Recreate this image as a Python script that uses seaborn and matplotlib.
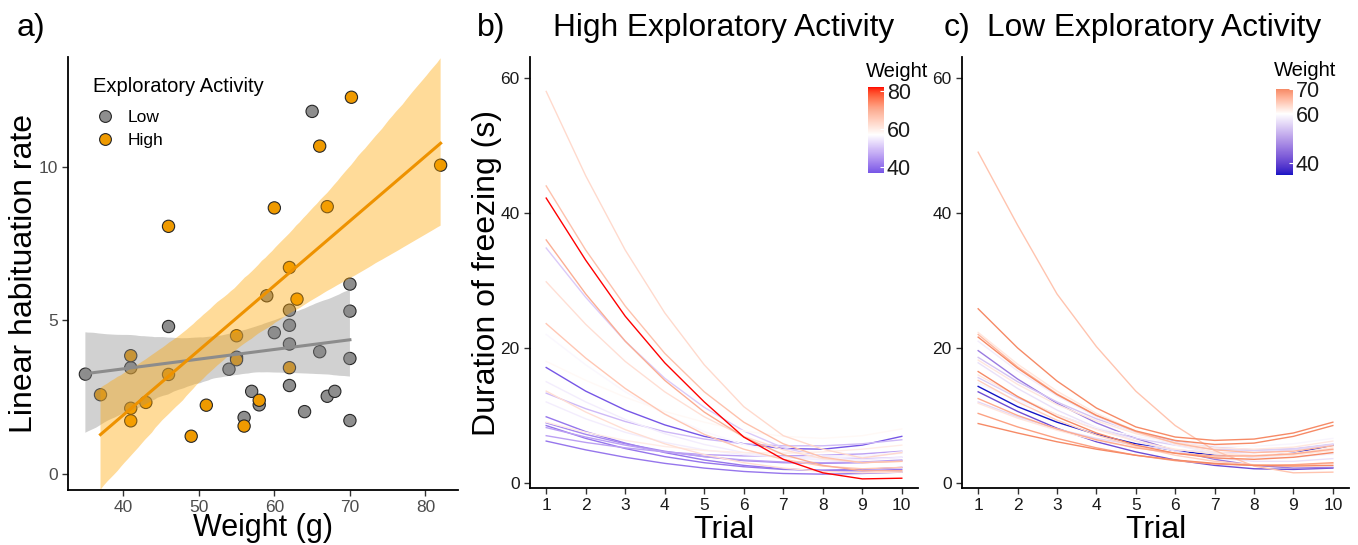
import numpy as np
import pandas as pd
import matplotlib
matplotlib.use("Agg")
import matplotlib.pyplot as plt
import seaborn as sns
from matplotlib.colors import ListedColormap, Normalize, to_rgb
from matplotlib.cm import ScalarMappable
from matplotlib.lines import Line2D

# ---- panel a: habituation rate vs weight ----
low_weight = [35, 41, 46, 54, 55, 56, 57, 58, 59, 60, 62, 62, 62, 62, 64, 65, 66, 67, 68, 70, 70, 70, 70]
low_rate = [3.25, 3.46, 4.8, 3.41, 3.8, 1.84, 2.69, 2.25, 5.8, 4.6, 5.33, 4.84, 4.23, 2.88,
            2.03, 11.8, 3.98, 2.53, 2.69, 6.18, 5.3, 3.76, 1.74]
high_weight = [37, 41, 41, 41, 43, 46, 46, 49, 51, 55, 55, 56, 58, 60, 62, 62, 63, 66, 67, 70.2, 82]
high_rate = [2.58, 3.85, 2.14, 1.73, 2.33, 3.24, 8.06, 1.23, 2.24, 4.5, 3.72, 1.56, 2.4, 8.66,
             6.72, 3.46, 5.69, 10.67, 8.7, 12.26, 10.05]

# ---- panels b, c: predicted freezing per individual over trials ----
trials = list(range(1, 11))

high_ind_weight = [37, 41, 41, 41, 43, 46, 46, 49, 51, 55, 55, 56, 58, 60, 62, 62, 63, 66, 67, 70, 82]
high_freeze = [
    [17.1, 13.6, 10.8, 8.6, 6.9, 5.8, 5.1, 5.0, 5.6, 6.9],
    [9.8, 7.6, 5.9, 4.5, 3.4, 2.6, 2.1, 1.8, 1.8, 2.0],
    [8.5, 6.6, 5.1, 3.9, 3.0, 2.4, 2.0, 1.9, 2.0, 2.3],
    [6.2, 4.9, 3.8, 2.9, 2.2, 1.7, 1.4, 1.3, 1.4, 1.6],
    [8.9, 7.2, 5.8, 4.7, 3.9, 3.3, 3.0, 2.9, 3.0, 3.3],
    [7.0, 6.0, 5.2, 4.6, 4.2, 4.0, 4.0, 4.1, 4.3, 4.7],
    [8.2, 6.8, 5.6, 4.6, 3.9, 3.4, 3.1, 3.0, 3.1, 3.4],
    [13.3, 11.0, 9.1, 7.6, 6.5, 5.8, 5.5, 5.5, 5.8, 6.4],
    [34.8, 27.5, 21.0, 15.5, 11.2, 7.7, 5.2, 3.9, 3.6, 3.8],
    [12.0, 9.5, 7.5, 6.0, 4.9, 4.2, 3.8, 3.7, 3.9, 4.4],
    [15.0, 12.0, 9.4, 7.3, 5.7, 4.5, 3.8, 3.4, 3.4, 3.8],
    [22.0, 17.5, 13.5, 10.2, 7.6, 5.7, 4.5, 4.0, 4.0, 4.6],
    [18.0, 15.2, 12.7, 10.6, 9.0, 7.7, 6.9, 6.6, 7.0, 8.0],
    [9.0, 7.5, 6.3, 5.4, 4.8, 4.5, 4.4, 4.6, 5.0, 5.6],
    [29.8, 23.5, 18.0, 13.5, 9.8, 6.9, 4.9, 3.6, 3.0, 3.2],
    [13.6, 10.5, 7.9, 5.8, 4.2, 3.0, 2.2, 1.7, 1.5, 1.6],
    [58.0, 45.5, 34.5, 25.2, 17.5, 11.3, 7.0, 5.0, 3.7, 4.5],
    [23.6, 18.5, 14.0, 10.2, 7.2, 5.0, 3.5, 2.5, 2.1, 2.3],
    [44.0, 34.5, 26.2, 19.2, 13.5, 9.0, 5.8, 3.8, 3.0, 3.2],
    [36.0, 28.0, 21.0, 15.2, 10.5, 6.8, 4.2, 2.6, 1.8, 1.8],
    [42.2, 33.0, 24.7, 17.8, 12.0, 6.8, 3.5, 1.5, 0.6, 0.7],
]

low_ind_weight = [35, 41, 46, 54, 55, 56, 57, 58, 59, 60, 62, 62, 62, 62, 64, 65, 66, 67, 68, 70, 70, 70, 70]
low_freeze = [
    [14.3, 11.3, 9.0, 7.2, 5.8, 4.8, 4.1, 3.9, 4.4, 5.6],
    [13.5, 10.6, 8.1, 6.1, 4.6, 3.4, 2.6, 2.1, 2.0, 2.2],
    [19.6, 15.4, 11.8, 8.9, 6.6, 4.8, 3.5, 2.6, 2.2, 2.3],
    [18.6, 15.0, 12.0, 9.5, 7.6, 6.2, 5.3, 4.9, 5.0, 5.6],
    [15.6, 12.6, 10.1, 8.1, 6.6, 5.6, 5.0, 4.8, 5.1, 5.8],
    [12.0, 9.8, 8.0, 6.6, 5.6, 4.9, 4.5, 4.5, 4.9, 5.7],
    [17.8, 14.0, 10.8, 8.2, 6.2, 4.7, 3.7, 3.2, 3.2, 3.6],
    [21.0, 16.6, 12.9, 9.8, 7.4, 5.6, 4.4, 3.8, 3.8, 4.3],
    [14.8, 12.2, 10.0, 8.2, 6.9, 6.0, 5.5, 5.4, 5.8, 6.6],
    [23.8, 19.0, 15.0, 11.7, 9.1, 7.2, 5.9, 5.3, 5.3, 6.0],
    [22.3, 17.6, 13.6, 10.3, 7.7, 5.8, 4.6, 4.0, 4.1, 4.8],
    [16.0, 12.8, 10.1, 7.9, 6.2, 5.0, 4.3, 4.1, 4.4, 5.2],
    [11.8, 9.6, 7.8, 6.3, 5.2, 4.4, 4.0, 3.9, 4.2, 4.9],
    [18.2, 14.6, 11.6, 9.2, 7.3, 6.0, 5.2, 5.0, 5.3, 6.2],
    [15.2, 12.0, 9.3, 7.1, 5.4, 4.1, 3.2, 2.7, 2.6, 2.9],
    [49.0, 38.2, 28.0, 20.2, 13.6, 8.5, 4.8, 2.5, 1.5, 1.6],
    [22.0, 17.2, 13.2, 10.0, 7.6, 5.9, 4.9, 4.5, 4.7, 5.5],
    [12.5, 10.0, 8.0, 6.4, 5.2, 4.4, 4.0, 4.0, 4.3, 5.0],
    [10.3, 8.3, 6.6, 5.2, 4.1, 3.3, 2.8, 2.6, 2.7, 3.0],
    [25.8, 20.0, 15.1, 11.1, 8.3, 6.8, 6.3, 6.5, 7.4, 9.0],
    [21.6, 17.0, 13.1, 10.0, 7.7, 6.3, 5.7, 5.9, 6.9, 8.5],
    [16.5, 12.8, 9.8, 7.4, 5.6, 4.4, 3.7, 3.5, 3.8, 4.5],
    [8.8, 7.4, 6.1, 5.0, 4.1, 3.4, 2.9, 2.6, 2.5, 2.6],
]

# colour anchors for the weight gradients (style, not data)
high_anchors = [(37, '#7656e6'), (57, '#ffffff'), (70, '#fbae94'), (82, '#ff0000')]
low_anchors = [(35, '#1414c4'), (60, '#ffffff'), (70, '#f68a66')]

M_RGB2XYZ = np.array([[0.4124564, 0.3575761, 0.1804375],
                      [0.2126729, 0.7151522, 0.0721750],
                      [0.0193339, 0.1191920, 0.9503041]])
WHITE = np.array([0.95047, 1.0, 1.08883])


def srgb_to_lab(rgb):
    rgb = np.asarray(rgb, float)
    lin = np.where(rgb <= 0.04045, rgb / 12.92, ((rgb + 0.055) / 1.055) ** 2.4)
    xyz = lin @ M_RGB2XYZ.T / WHITE
    d = 6 / 29
    f = np.where(xyz > d ** 3, np.cbrt(xyz), xyz / (3 * d * d) + 4 / 29)
    return np.stack([116 * f[..., 1] - 16, 500 * (f[..., 0] - f[..., 1]),
                     200 * (f[..., 1] - f[..., 2])], axis=-1)


def lab_to_srgb(lab):
    fy = (lab[..., 0] + 16) / 116
    fx = fy + lab[..., 1] / 500
    fz = fy - lab[..., 2] / 200
    d = 6 / 29
    inv = lambda t: np.where(t > d, t ** 3, 3 * d * d * (t - 4 / 29))
    xyz = np.stack([inv(fx), inv(fy), inv(fz)], axis=-1) * WHITE
    lin = np.clip(xyz @ np.linalg.inv(M_RGB2XYZ).T, 0, 1)
    rgb = np.where(lin <= 0.0031308, 12.92 * lin, 1.055 * lin ** (1 / 2.4) - 0.055)
    return np.clip(rgb, 0, 1)


def lab_ramp(anchors, wmin, wmax, n=256):
    ws = np.array([a[0] for a in anchors], float)
    labs = srgb_to_lab(np.array([to_rgb(a[1]) for a in anchors]))
    grid = np.linspace(wmin, wmax, n)
    out = np.stack([np.interp(grid, ws, labs[:, k]) for k in range(3)], axis=-1)
    return ListedColormap(lab_to_srgb(out)), Normalize(wmin, wmax)


plt.rcParams['font.family'] = ['Liberation Sans', 'DejaVu Sans']
fig = plt.figure(figsize=(13.58, 5.45), dpi=100)
W, H = 1358, 545


def add_ax(x0, y0, x1, y1):
    return fig.add_axes([x0 / W, 1 - y1 / H, (x1 - x0) / W, (y1 - y0) / H])


def classic(ax, tick_color):
    for s in ['top', 'right']:
        ax.spines[s].set_visible(False)
    for s in ['left', 'bottom']:
        ax.spines[s].set_linewidth(1.3)
        ax.spines[s].set_color('black')
    ax.tick_params(length=4, width=1, color='#333333', labelcolor=tick_color, labelsize=12.5)


# ---- panel a ----
ax_a = add_ax(68, 57, 458, 490)
df_a = pd.DataFrame({
    'weight': low_weight + high_weight,
    'rate': low_rate + high_rate,
    'activity': ['Low'] * len(low_weight) + ['High'] * len(high_weight),
})
pal_a = {'Low': '#8e8e8e', 'High': '#ef9a00'}
sns.scatterplot(data=df_a, x='weight', y='rate', hue='activity', palette=pal_a, s=78,
                edgecolor='#262626', linewidth=0.8, legend=False, ax=ax_a, zorder=1)
band = {'Low': ('#8c8c8c', '#8c8c8c'), 'High': ('#ffa500', '#ee9200')}
for grp in ['Low', 'High']:
    sub = df_a[df_a['activity'] == grp]
    sns.regplot(data=sub, x='weight', y='rate', scatter=False, ci=95, n_boot=2000, seed=3,
                color=band[grp][1], line_kws=dict(lw=2.2), ax=ax_a)
    poly = ax_a.collections[-1]
    poly.set_facecolor(band[grp][0])
    poly.set_alpha(0.4)
    poly.set_edgecolor('none')
ax_a.set_xlim(32.7, 84.3)
ax_a.set_ylim(-0.52, 13.57)
ax_a.set_xticks([40, 50, 60, 70, 80])
ax_a.set_yticks([0, 5, 10])
classic(ax_a, '#4d4d4d')
ax_a.set_xlabel('Weight (g)', fontsize=22)
ax_a.xaxis.set_label_coords(0.5, (490 - 513) / 433)
ax_a.set_ylabel('Linear habituation rate', fontsize=23)
ax_a.yaxis.set_label_coords((39 - 68) / 390, 0.5)
ax_a.text((93 - 68) / 390, (490 - 87) / 433, 'Exploratory Activity', fontsize=14.5,
          transform=ax_a.transAxes, va='center', ha='left')
handles = [Line2D([], [], marker='o', ls='none', markersize=8.5, markerfacecolor=pal_a[k],
                  markeredgecolor='#262626', markeredgewidth=0.8) for k in ['Low', 'High']]
ax_a.legend(handles, ['Low', 'High'], loc='upper left',
            bbox_to_anchor=((91 - 68) / 390, (490 - 110) / 433), frameon=False,
            fontsize=12.5, handletextpad=0.5, labelspacing=0.45, handlelength=1.6,
            borderpad=0, borderaxespad=0)


# ---- panels b and c ----
def curve_panel(box, weights, freeze, anchors, ticks, cbox, title_xy):
    ax = add_ax(*box)
    rows = []
    for i, (w, vals) in enumerate(zip(weights, freeze)):
        for tr, v in zip(trials, vals):
            rows.append({'id': i, 'trial': tr, 'freeze': v, 'weight': w})
    df = pd.DataFrame(rows)
    cmap, norm = lab_ramp(anchors, min(weights), max(weights))
    sns.lineplot(data=df, x='trial', y='freeze', hue='weight', units='id', estimator=None,
                 palette=cmap, hue_norm=norm, legend=False, lw=1.0, ax=ax)
    ax.set_xlim(0.59, 10.41)
    ax.set_ylim(-0.75, 63.1)
    ax.set_xticks(trials)
    ax.set_yticks([0, 20, 40, 60])
    classic(ax, '#1a1a1a')
    ax.set_xlabel('Trial', fontsize=23)
    ax.xaxis.set_label_coords(0.5, (488 - 515) / 431)
    cax = add_ax(*cbox)
    cb = fig.colorbar(ScalarMappable(norm=norm, cmap=cmap), cax=cax)
    cb.outline.set_visible(False)
    cb.set_ticks(ticks)
    cax.tick_params(direction='in', length=3, width=0.8, color='white', labelsize=15.5,
                    labelcolor='#1a1a1a', pad=2)
    fig.text(title_xy[0] / W, 1 - title_xy[1] / H, 'Weight', fontsize=14.5,
             ha='left', va='center')
    return ax


ax_b = curve_panel((530, 57, 918, 488), high_ind_weight, high_freeze, high_anchors,
                   [40, 60, 80], (868, 87, 884, 173), (866, 71))
ax_b.set_ylabel('Duration of freezing (s)', fontsize=23)
ax_b.yaxis.set_label_coords((502 - 530) / 388, 0.5)
ax_c = curve_panel((962, 57, 1349, 488), low_ind_weight, low_freeze, low_anchors,
                   [40, 60, 70], (1276, 89, 1293, 175), (1274, 70))
ax_c.set_ylabel('')

# panel tags and titles
for x, s in [(17, 'a)'), (477, 'b)'), (944, 'c)')]:
    fig.text(x / W, 1 - 36 / H, s, fontsize=23, va='baseline')
fig.text(553 / W, 1 - 36 / H, 'High Exploratory Activity', fontsize=22.8, va='baseline')
fig.text(987 / W, 1 - 36 / H, 'Low Exploratory Activity', fontsize=22.8, va='baseline')

fig.savefig('out.png', dpi=100)
